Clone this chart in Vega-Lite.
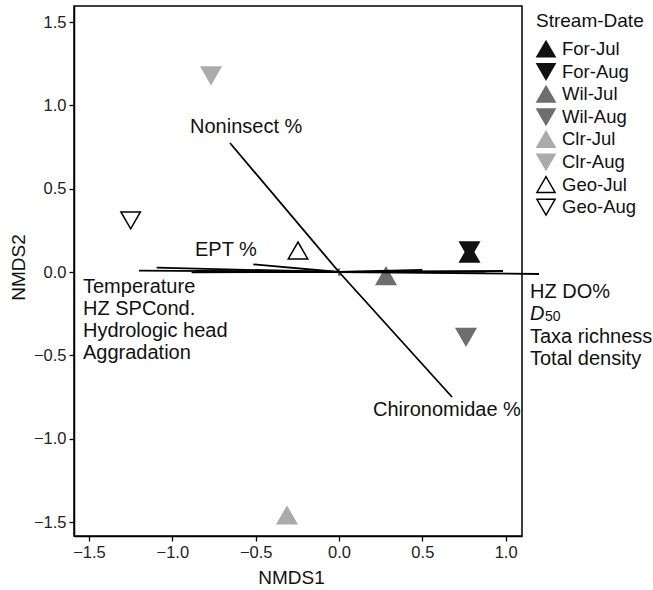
{
  "$schema": "https://vega.github.io/schema/vega-lite/v6.json",
  "width": 448,
  "height": 530,
  "autosize": {"type": "none"},
  "padding": {"left": 74, "top": 6, "right": 131, "bottom": 54},
  "background": "white",
  "config": {
    "font": "Liberation Sans",
    "view": {"stroke": "#000", "strokeWidth": 1.5},
    "axis": {
      "grid": false,
      "domainColor": "#000",
      "domainWidth": 1.5,
      "tickColor": "#000",
      "tickSize": 5,
      "tickWidth": 1.3,
      "labelFont": "Liberation Sans",
      "labelFontSize": 16.5,
      "labelColor": "#222",
      "labelPadding": 3,
      "titleFont": "Liberation Sans",
      "titleFontSize": 19,
      "titleFontWeight": "normal",
      "titleColor": "#111"
    },
    "legend": {
      "orient": "none",
      "legendX": 462,
      "legendY": 6,
      "titleFont": "Liberation Sans",
      "titleFontSize": 19,
      "titleFontWeight": "normal",
      "titleColor": "#111",
      "titlePadding": 8,
      "labelFont": "Liberation Sans",
      "labelFontSize": 18.5,
      "labelColor": "#111",
      "labelOffset": 6,
      "symbolSize": 330,
      "symbolStrokeWidth": 1.5,
      "rowPadding": 0.6,
      "padding": 0
    }
  },
  "datasets": {
    "samples": [
      {"sd": "For-Jul", "x": 0.783, "y": 0.111},
      {"sd": "For-Aug", "x": 0.783, "y": 0.129},
      {"sd": "Wil-Jul", "x": 0.282, "y": -0.024},
      {"sd": "Wil-Aug", "x": 0.762, "y": -0.39},
      {"sd": "Clr-Jul", "x": -0.312, "y": -1.46},
      {"sd": "Clr-Aug", "x": -0.768, "y": 1.179},
      {"sd": "Geo-Jul", "x": -0.246, "y": 0.129},
      {"sd": "Geo-Aug", "x": -1.25, "y": 0.31}
    ],
    "vectors": [
      {"v": "Temperature", "x0": 0, "y0": 0, "x": -1.2, "y": 0.008},
      {"v": "HZ SPCond.", "x0": 0, "y0": 0, "x": -1.094, "y": 0.026},
      {"v": "Hydrologic head", "x0": 0, "y0": 0, "x": -0.884, "y": -0.002},
      {"v": "Aggradation", "x0": 0, "y0": 0, "x": -0.86, "y": 0.006},
      {"v": "EPT %", "x0": 0, "y0": 0, "x": -0.514, "y": 0.046},
      {"v": "Noninsect %", "x0": 0, "y0": 0, "x": -0.654, "y": 0.774},
      {"v": "Chironomidae %", "x0": 0, "y0": 0, "x": 0.678, "y": -0.75},
      {"v": "HZ DO%", "x0": 0, "y0": 0, "x": 1.2, "y": -0.012},
      {"v": "D50", "x0": 0, "y0": 0, "x": 0.984, "y": 0.006},
      {"v": "Taxa richness", "x0": 0, "y0": 0, "x": 0.5, "y": 0.012},
      {"v": "Total density", "x0": 0, "y0": 0, "x": 0.88, "y": 0.002}
    ],
    "labels": [
      {"t": "Temperature", "x": -1.536, "y": -0.09},
      {"t": "HZ SPCond.", "x": -1.536, "y": -0.222},
      {"t": "Hydrologic head", "x": -1.536, "y": -0.354},
      {"t": "Aggradation", "x": -1.536, "y": -0.486},
      {"t": "HZ DO%", "x": 1.146, "y": -0.12},
      {"t": "Taxa richness", "x": 1.146, "y": -0.39},
      {"t": "Total density", "x": 1.146, "y": -0.522},
      {"t": "EPT %", "x": -0.864, "y": 0.132},
      {"t": "Noninsect %", "x": -0.894, "y": 0.87},
      {"t": "Chironomidae %", "x": 0.204, "y": -0.828}
    ],
    "dlabel": [{"t": "D", "x": 1.146, "y": -0.252}],
    "sublabel": [{"t": "50", "x": 1.146, "y": -0.252}],
    "origin": [{"x": 0, "y": 0}]
  },
  "layer": [
    {
      "data": {"name": "samples"},
      "mark": {"type": "point", "size": 380, "strokeWidth": 1.5, "opacity": 1, "clip": false},
      "encoding": {
        "x": {
          "field": "x", "type": "quantitative", "title": "NMDS1",
          "scale": {"domain": [-1.59, 1.098], "nice": false, "zero": false},
          "axis": {"values": [-1.5, -1, -0.5, 0, 0.5, 1], "format": ".1f", "titleX": 217, "titleY": 41, "titleBaseline": "middle", "titleAlign": "center"}
        },
        "y": {
          "field": "y", "type": "quantitative", "title": "NMDS2",
          "scale": {"domain": [-1.584, 1.596], "nice": false, "zero": false},
          "axis": {"values": [-1.5, -1, -0.5, 0, 0.5, 1, 1.5], "format": ".1f", "titleX": -56, "titleY": 261, "titleBaseline": "middle", "titleAlign": "center", "titleAngle": -90}
        },
        "shape": {
          "field": "sd", "type": "nominal", "title": "Stream-Date",
          "scale": {
            "domain": ["For-Jul", "For-Aug", "Wil-Jul", "Wil-Aug", "Clr-Jul", "Clr-Aug", "Geo-Jul", "Geo-Aug"],
            "range": ["M-1,0.866L1,0.866L0,-0.866Z", "M-1,-0.866L1,-0.866L0,0.866Z", "M-1,0.866L1,0.866L0,-0.866Z", "M-1,-0.866L1,-0.866L0,0.866Z", "M-1,0.866L1,0.866L0,-0.866Z", "M-1,-0.866L1,-0.866L0,0.866Z", "M-1,0.866L1,0.866L0,-0.866Z", "M-1,-0.866L1,-0.866L0,0.866Z"]
          }
        },
        "fill": {
          "field": "sd", "type": "nominal", "title": "Stream-Date",
          "scale": {
            "domain": ["For-Jul", "For-Aug", "Wil-Jul", "Wil-Aug", "Clr-Jul", "Clr-Aug", "Geo-Jul", "Geo-Aug"],
            "range": ["#111111", "#111111", "#6e6e6e", "#6e6e6e", "#ababab", "#ababab", "#ffffff", "#ffffff"]
          }
        },
        "stroke": {
          "field": "sd", "type": "nominal", "title": "Stream-Date",
          "scale": {
            "domain": ["For-Jul", "For-Aug", "Wil-Jul", "Wil-Aug", "Clr-Jul", "Clr-Aug", "Geo-Jul", "Geo-Aug"],
            "range": ["#111111", "#111111", "#6e6e6e", "#6e6e6e", "#ababab", "#ababab", "#000000", "#000000"]
          }
        }
      }
    },
    {
      "data": {"name": "vectors"},
      "mark": {"type": "rule", "color": "#000", "strokeWidth": 1.8, "clip": false},
      "encoding": {
        "x": {"field": "x0", "type": "quantitative"},
        "y": {"field": "y0", "type": "quantitative"},
        "x2": {"field": "x"},
        "y2": {"field": "y"}
      }
    },
    {
      "data": {"name": "origin"},
      "mark": {"type": "point", "shape": "M-1,0L1,0M0,-1L0,1", "size": 60, "stroke": "#000", "strokeWidth": 1.2, "filled": false, "opacity": 1},
      "encoding": {
        "x": {"field": "x", "type": "quantitative"},
        "y": {"field": "y", "type": "quantitative"}
      }
    },
    {
      "data": {"name": "labels"},
      "mark": {"type": "text", "align": "left", "baseline": "middle", "fontSize": 20, "font": "Liberation Sans", "color": "#111", "clip": false},
      "encoding": {
        "x": {"field": "x", "type": "quantitative"},
        "y": {"field": "y", "type": "quantitative"},
        "text": {"field": "t", "type": "nominal"}
      }
    },
    {
      "data": {"name": "dlabel"},
      "mark": {"type": "text", "align": "left", "baseline": "middle", "fontSize": 20, "fontStyle": "italic", "font": "Liberation Sans", "color": "#111", "clip": false},
      "encoding": {
        "x": {"field": "x", "type": "quantitative"},
        "y": {"field": "y", "type": "quantitative"},
        "text": {"field": "t", "type": "nominal"}
      }
    },
    {
      "data": {"name": "sublabel"},
      "mark": {"type": "text", "align": "left", "baseline": "middle", "fontSize": 14, "dx": 15, "dy": 3, "font": "Liberation Sans", "color": "#111", "clip": false},
      "encoding": {
        "x": {"field": "x", "type": "quantitative"},
        "y": {"field": "y", "type": "quantitative"},
        "text": {"field": "t", "type": "nominal"}
      }
    }
  ]
}
